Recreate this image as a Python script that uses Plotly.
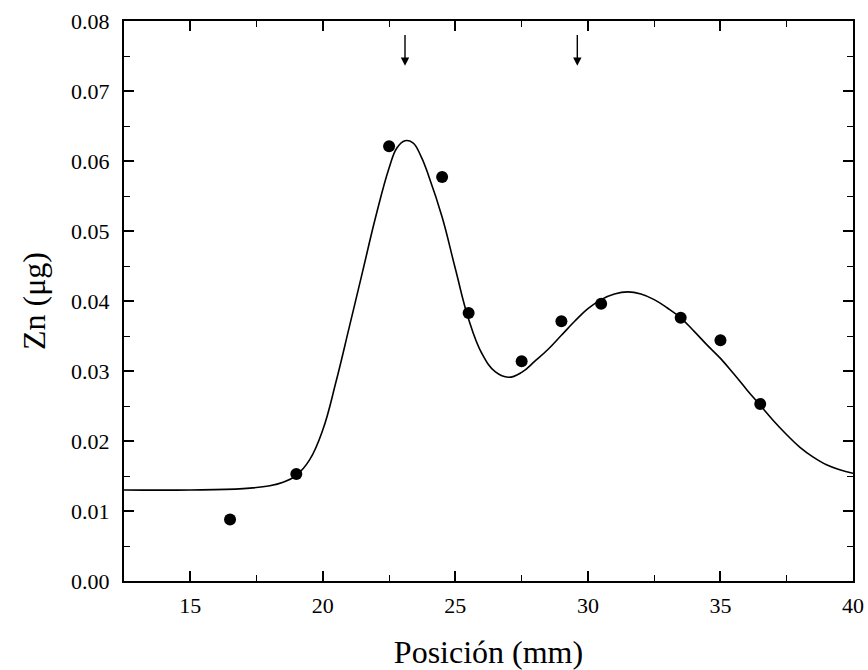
import plotly.graph_objects as go

# Measured zinc amounts along the position axis
pos_mm = [16.5, 19.0, 22.5, 24.5, 25.5, 27.5, 29.0, 30.5, 33.5, 35.0, 36.5]
zn_ug = [0.0088, 0.0153, 0.0621, 0.0577, 0.0383, 0.0314, 0.0371, 0.0396, 0.0376, 0.0344, 0.0253]

# Fitted profile, sampled along the position axis
fit_x = [12.5, 15.0, 17.0, 18.0, 18.5, 19.0, 19.5, 20.0, 20.5, 21.0, 21.5, 22.0,
         22.5, 22.8, 23.1, 23.4, 23.7, 24.0, 24.5, 25.0, 25.5, 26.0, 26.5, 27.0,
         27.5, 28.0, 28.5, 29.0, 29.5, 30.0, 30.5, 31.0, 31.5, 32.0, 32.5, 33.0,
         33.5, 34.0, 34.5, 35.0, 35.5, 36.0, 36.5, 37.0, 37.5, 38.0, 38.5, 39.0,
         39.5, 40.0]
fit_y = [0.0130, 0.0130, 0.0132, 0.0136, 0.0141, 0.0151, 0.0173, 0.0216, 0.0285,
         0.0363, 0.0442, 0.0521, 0.0590, 0.0619, 0.0629, 0.0626, 0.0607, 0.0578,
         0.0520, 0.0446, 0.0374, 0.0325, 0.0299, 0.0291, 0.0298, 0.0314, 0.0331,
         0.0351, 0.0371, 0.0389, 0.0402, 0.0410, 0.0413, 0.0410, 0.0402, 0.0390,
         0.0376, 0.0357, 0.0337, 0.0318, 0.0296, 0.0273, 0.0251, 0.0229, 0.0209,
         0.0191, 0.0177, 0.0166, 0.0159, 0.0154]

# Peak positions marked with arrows
peak_x = [23.1, 29.6]
arrow_top = 0.0782
arrow_tip = 0.0736

x_ticks = [15, 20, 25, 30, 35, 40]
y_ticks = [0.00, 0.01, 0.02, 0.03, 0.04, 0.05, 0.06, 0.07, 0.08]
y_labels = ["%.2f" % v for v in y_ticks]

font_family = "'Liberation Serif', 'Times New Roman', 'DejaVu Serif', serif"

fig = go.Figure()
fig.add_trace(go.Scatter(
    x=fit_x, y=fit_y, mode="lines",
    line=dict(color="black", width=1.6, shape="spline", smoothing=1.2),
    hoverinfo="skip", showlegend=False,
))
fig.add_trace(go.Scatter(
    x=pos_mm, y=zn_ug, mode="markers",
    marker=dict(color="black", size=12, line=dict(width=0)),
    showlegend=False,
))

for px in peak_x:
    fig.add_annotation(
        x=px, y=arrow_tip, ax=px, ay=arrow_top,
        xref="x", yref="y", axref="x", ayref="y",
        showarrow=True, arrowhead=2, arrowsize=1.2, arrowwidth=1.4,
        arrowcolor="black", text="",
    )

axis_common = dict(
    showgrid=False, zeroline=False, automargin=False,
    showline=True, linecolor="black", linewidth=2, mirror="ticks",
    ticks="inside", ticklen=10, tickwidth=1.5, tickcolor="black",
    tickfont=dict(family=font_family, size=22, color="black"),
)

fig.update_xaxes(
    range=[12.5, 40], tickvals=x_ticks, ticklabelstandoff=4,
    minor=dict(dtick=2.5, tick0=12.5, ticks="inside", ticklen=6, tickwidth=1.2, tickcolor="black"),
    title=dict(text="Posición (mm)", font=dict(family=font_family, size=32, color="black"), standoff=24),
    **axis_common,
)
fig.update_yaxes(
    range=[0, 0.08], tickvals=y_ticks, ticktext=y_labels, ticklabelstandoff=8,
    minor=dict(dtick=0.005, tick0=0, ticks="inside", ticklen=6, tickwidth=1.2, tickcolor="black"),
    title=dict(text="Zn (μg)", font=dict(family=font_family, size=32, color="black"), standoff=16),
    **axis_common,
)

fig.update_layout(
    width=868, height=670,
    margin=dict(l=124, r=15, t=21, b=89),
    paper_bgcolor="white", plot_bgcolor="white",
    font=dict(family=font_family, color="black"),
)

fig.write_html("out.html")
